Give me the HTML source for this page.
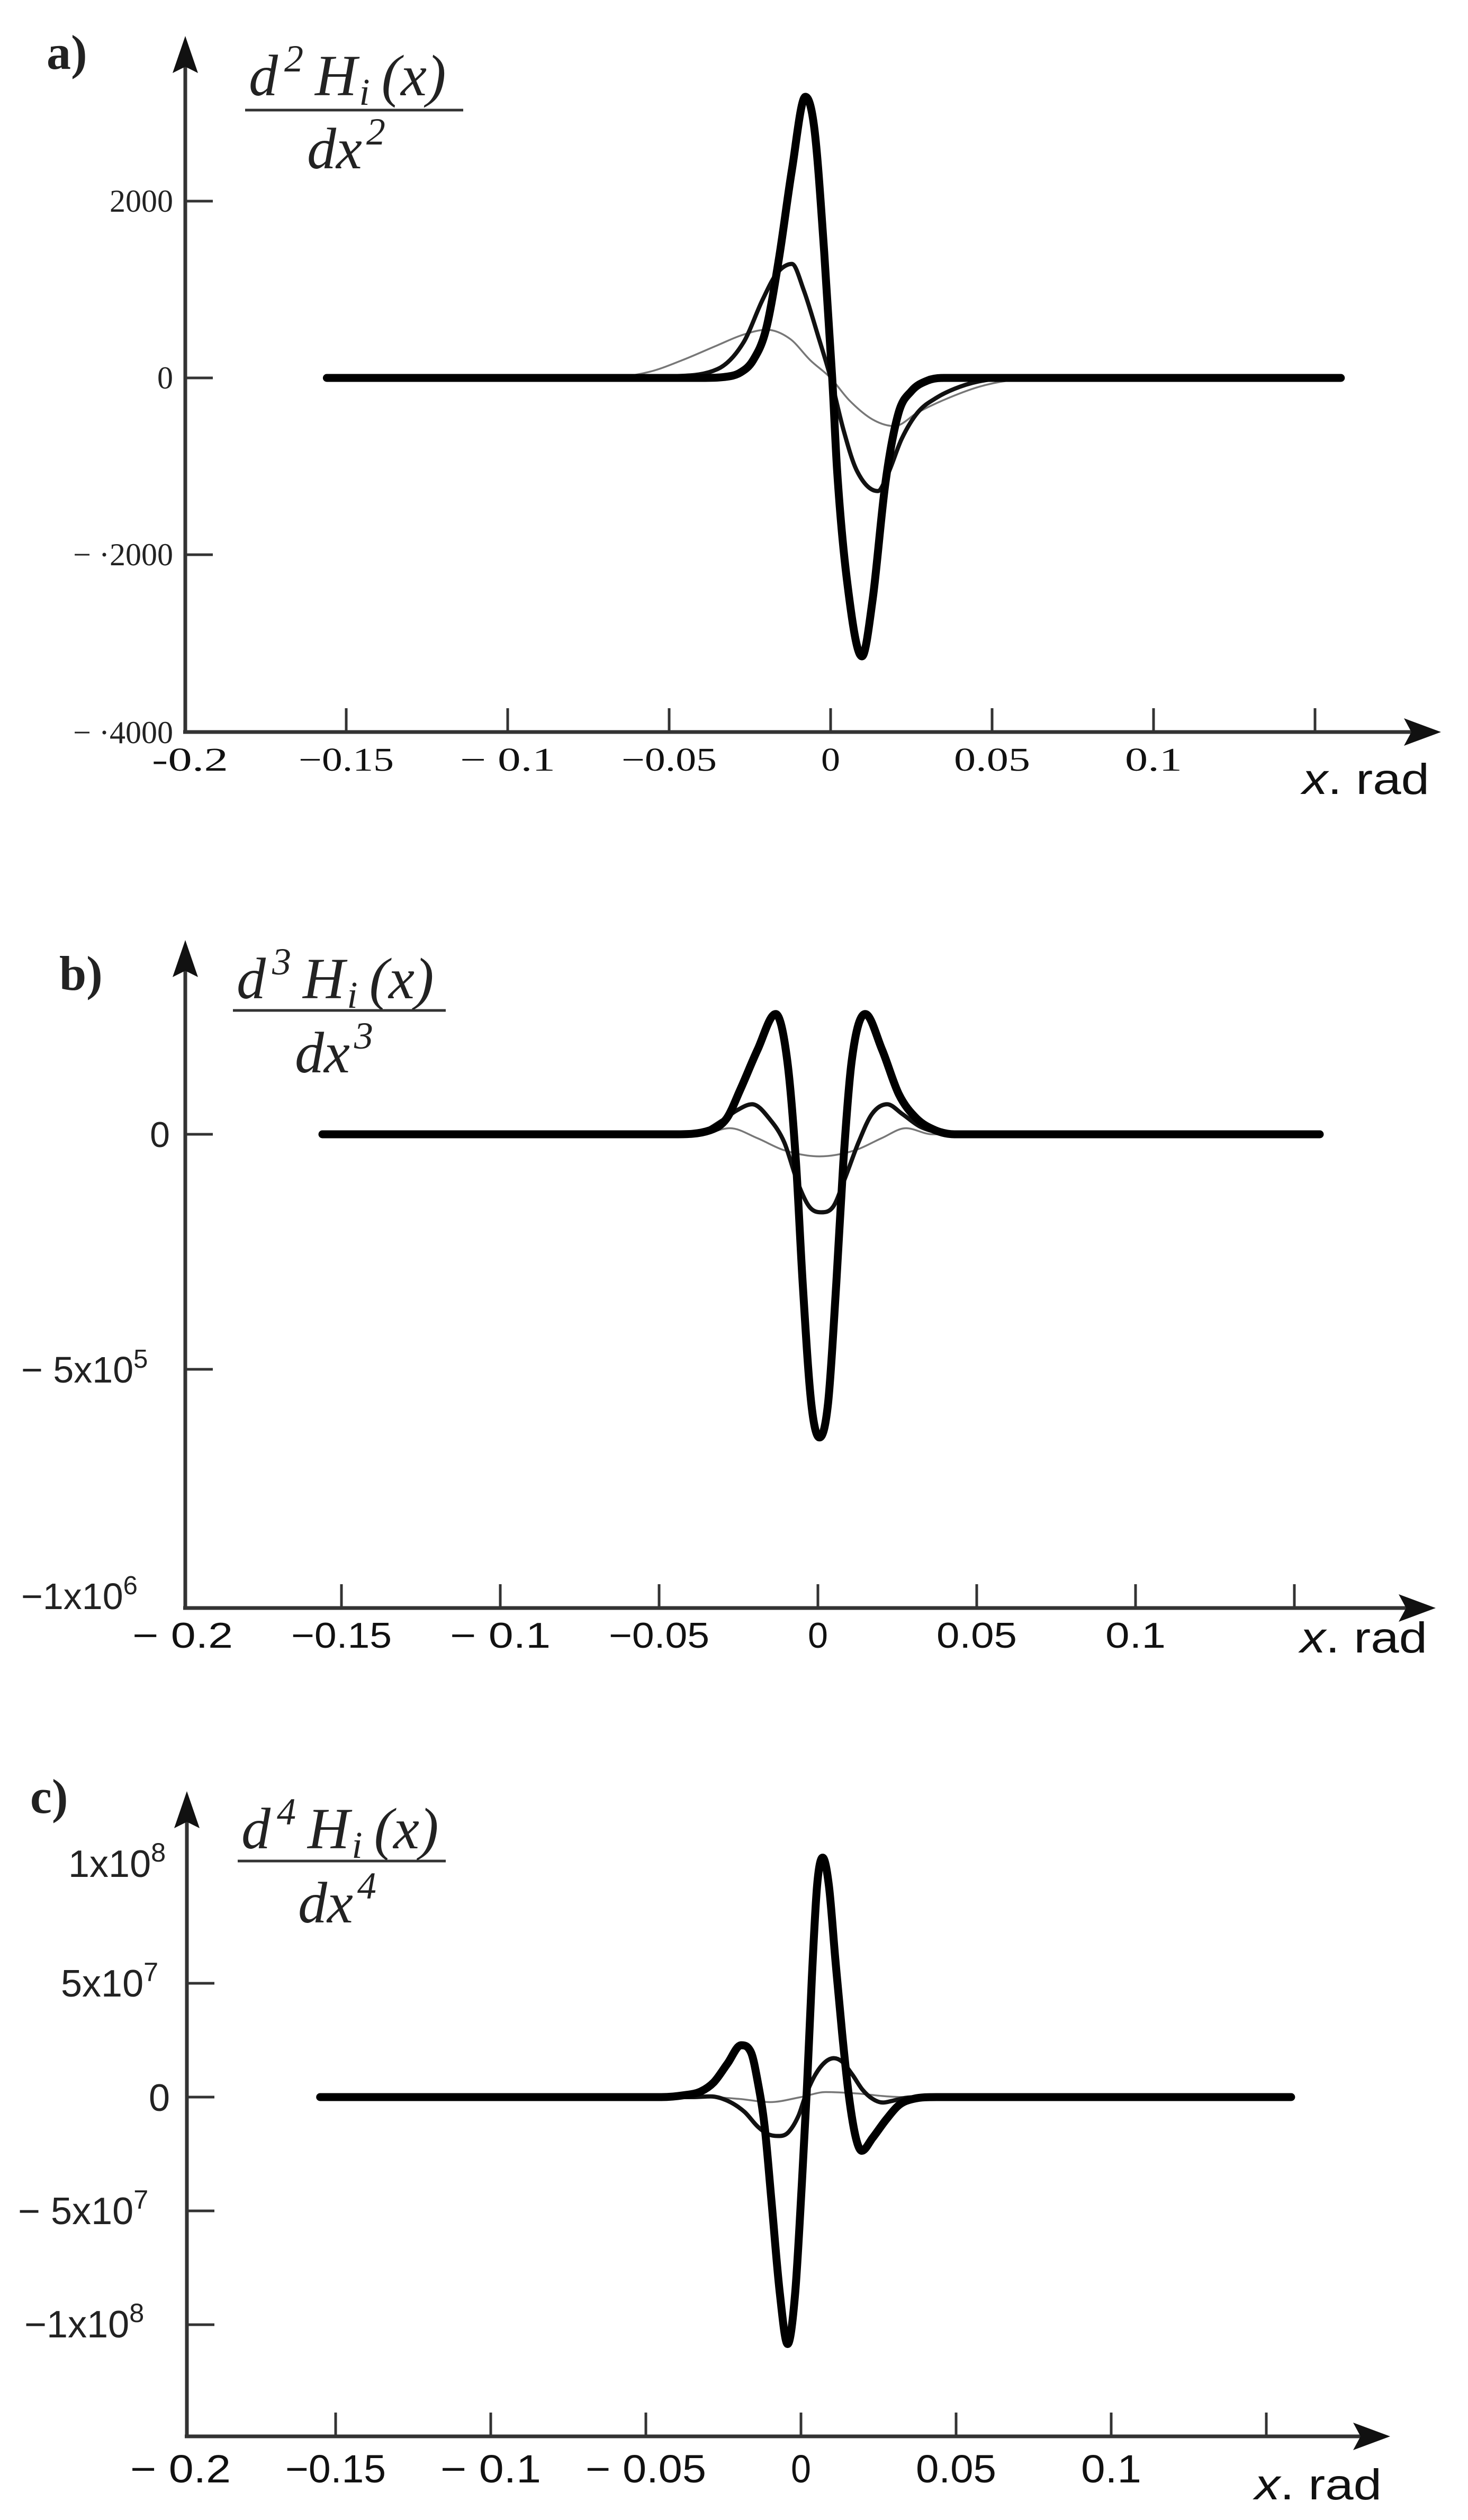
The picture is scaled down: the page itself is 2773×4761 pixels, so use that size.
<!DOCTYPE html>
<html><head><meta charset="utf-8"><style>
html,body{margin:0;padding:0;background:#fff;}
svg{display:block;}
</style></head><body>
<svg id="fig" width="2773" height="4761" viewBox="0 0 2773 4761" xmlns="http://www.w3.org/2000/svg">
<rect width="2773" height="4761" fill="#fff"/>
</svg>
<script>
// ---------- panel a data (d2H/dx2) ----------
const aThinX = [-0.156,-0.07,-0.056,-0.046,-0.035,-0.027,-0.0198,-0.0125,-0.0063,0,0.0057,0.013,0.0198,0.027,0.035,0.046,0.056,0.07,0.158];
const aThinY = [0,0,70,200,370,490,545,440,200,0,-250,-470,-545,-390,-250,-100,-25,0,0];
const aMedX = [-0.156,-0.06,-0.05,-0.035,-0.027,-0.021,-0.0167,-0.012,-0.0083,-0.004,0,0.004,0.008,0.0146,0.0177,0.022,0.027,0.033,0.04,0.048,0.058,0.158];
const aMedY = [0,0,15,100,400,890,1180,1290,990,490,0,-590,-1040,-1280,-1090,-690,-390,-220,-100,-25,0,0];
const aThickX = [-0.156,-0.04,-0.033,-0.028,-0.024,-0.02,-0.016,-0.012,-0.0078,-0.005,-0.002,0.0005,0.002,0.005,0.0097,0.013,0.017,0.021,0.025,0.03,0.035,0.158];
const aThickY = [0,0,10,60,200,550,1350,2350,3180,2810,1430,0,-1040,-2270,-3150,-2510,-1180,-400,-150,-30,0,0];
const aYTicks = [2000,0,-2000];
const aYLabels = ["2000","0","\u2212 \u00b72000"];
const aXTicks = [-0.15,-0.1,-0.05,0,0.05,0.1,0.15];
const aXLabelVals = [-0.2,-0.15,-0.1,-0.05,0,0.05,0.1];
const aXLabels = ["-0.2","\u22120.15","\u2212 0.1","\u22120.05","0","0.05","0.1"];

// ---------- panel b data (d3H/dx3) ----------
const bThinX = [-0.156,-0.037,-0.0277,-0.019,-0.0106,0.0005,0.0117,0.02,0.0277,0.036,0.158];
const bThinY = [0,0,13000,-8500,-34000,-47000,-34000,-8500,13000,0,0];
const bMedX = [-0.156,-0.045,-0.037,-0.03,-0.0255,-0.0207,-0.0149,-0.0106,-0.0064,-0.0027,0.001,0.0048,0.0085,0.0128,0.017,0.0218,0.0266,0.032,0.038,0.046,0.158];
const bMedY = [0,0,4000,30000,51000,64000,30000,-17000,-102000,-154000,-166000,-154000,-94000,-17000,43000,64000,43000,17000,4000,0,0];
const bThickX = [-0.156,-0.045,-0.034,-0.0287,-0.0245,-0.019,-0.0133,-0.0096,-0.0069,-0.0048,-0.0021,0.0005,0.0032,0.0058,0.008,0.0106,0.0149,0.0202,0.0255,0.031,0.037,0.043,0.158];
const bThickY = [0,0,8500,34000,94000,180000,256000,154000,-60000,-316000,-572000,-645000,-572000,-316000,-60000,154000,256000,180000,85000,34000,8500,0,0];
const bYTicks = [0,-500000];
const bXTicks = [-0.15,-0.1,-0.05,0,0.05,0.1,0.15];
const bXLabelVals = [-0.2,-0.15,-0.1,-0.05,0,0.05,0.1];
const bXLabels = ["\u2212 0.2","\u22120.15","\u2212 0.1","\u22120.05","0","0.05","0.1"];

// ---------- panel c data (d4H/dx4) ----------
const cThinX = [-0.155,-0.03,-0.02,-0.01,0,0.008,0.018,0.028,0.035,0.158];
const cThinY = [0,0,-0.8e6,-2.2e6,0,2.2e6,1.6e6,0.3e6,0,0];
const cMedX = [-0.155,-0.035,-0.0291,-0.0237,-0.0182,-0.0139,-0.0106,-0.0068,-0.0041,-0.0008,0.0013,0.0046,0.0079,0.0106,0.0133,0.0166,0.0198,0.0231,0.0264,0.0296,0.034,0.04,0.158];
const cMedY = [0,0,0.3e6,-1.6e6,-6.5e6,-13e6,-16.3e6,-17.1e6,-15.5e6,-8.2e6,0,9.8e6,15.5e6,17.1e6,15.5e6,9.8e6,3.3e6,-0.8e6,-2.4e6,-1.6e6,-0.3e6,0,0];
const cThickX = [-0.155,-0.045,-0.0378,-0.0324,-0.0281,-0.0237,-0.0193,-0.0161,-0.0139,-0.0117,-0.0095,-0.0068,-0.0043,-0.0019,0.0003,0.0019,0.0035,0.0052,0.007,0.009,0.0111,0.0133,0.0155,0.0177,0.0196,0.0231,0.0275,0.0318,0.0362,0.0438,0.158];
const cThickY = [0,0,0.8e6,2.4e6,6.5e6,14.7e6,22.8e6,19.6e6,6.5e6,-13e6,-45.7e6,-86.5e6,-108.5e6,-86.5e6,-37.5e6,3.3e6,52.2e6,93e6,105.2e6,93e6,60.3e6,27.7e6,0,-17.9e6,-23.6e6,-17.9e6,-9.8e6,-3.3e6,-0.8e6,0,0];
const cYTicks = [5e7,0,-5e7,-1e8];
const cXTicks = [-0.15,-0.1,-0.05,0,0.05,0.1,0.15];
const cXLabelVals = [-0.2,-0.15,-0.1,-0.05,0,0.05,0.1];
const cXLabels = ["\u2212 0.2","\u22120.15","\u2212 0.1","\u2212 0.05","0","0.05","0.1"];

const NS = "http://www.w3.org/2000/svg";
const svg = document.getElementById('fig');
function mk(tag, attrs, parent){
  const e = document.createElementNS(NS, tag);
  for (const k in attrs) e.setAttribute(k, attrs[k]);
  (parent||svg).appendChild(e);
  return e;
}
function monoPath(px, py){
  const n = px.length, d = [], m = [];
  for (let i=0;i<n-1;i++) d.push((py[i+1]-py[i])/(px[i+1]-px[i]));
  m[0]=d[0]; m[n-1]=d[n-2];
  for (let i=1;i<n-1;i++){ m[i] = (d[i-1]*d[i]<=0)?0:(d[i-1]+d[i])/2; }
  for (let i=0;i<n-1;i++){
    if (d[i]===0){ m[i]=0; m[i+1]=0; continue; }
    const a=m[i]/d[i], b=m[i+1]/d[i], s=a*a+b*b;
    if (s>9){ const t=3/Math.sqrt(s); m[i]=t*a*d[i]; m[i+1]=t*b*d[i]; }
  }
  let p = "M"+px[0].toFixed(1)+","+py[0].toFixed(1);
  for (let i=0;i<n-1;i++){
    const h=(px[i+1]-px[i])/3;
    p += " C"+(px[i]+h).toFixed(1)+","+(py[i]+m[i]*h).toFixed(1)+" "+(px[i+1]-h).toFixed(1)+","+(py[i+1]-m[i+1]*h).toFixed(1)+" "+px[i+1].toFixed(1)+","+py[i+1].toFixed(1);
  }
  return p;
}

function panel(cfg){
  const g = mk('g', {});
  
  
  const sx = v => cfg.x0 + v*cfg.xs;
  const sy = v => cfg.y0 - v*cfg.ys;
  const ya = mk('line',{x1:cfg.ax,y1:cfg.axisY,x2:cfg.ax,y2:cfg.yTop+40,stroke:'#333','stroke-width':7},g);
  
  
  const yarr = mk('path',{d:`M${cfg.ax},${cfg.yTop} L${cfg.ax-24},${cfg.yTop+70} L${cfg.ax},${cfg.yTop+58} L${cfg.ax+24},${cfg.yTop+70} Z`,fill:'#111'},g);
  
  
  const xa = mk('line',{x1:cfg.ax-4,y1:cfg.axisY,x2:cfg.xRight-40,y2:cfg.axisY,stroke:'#333','stroke-width':7},g);
  
  
  const xarr = mk('path',{d:`M${cfg.xRight},${cfg.axisY} L${cfg.xRight-70},${cfg.axisY-26} L${cfg.xRight-56},${cfg.axisY} L${cfg.xRight-70},${cfg.axisY+26} Z`,fill:'#111'},g);
  
  
  cfg.xTicks.forEach(v=>{
    const t = mk('line',{x1:sx(v),y1:cfg.axisY,x2:sx(v),y2:cfg.axisY-45,stroke:'#333','stroke-width':5},g);
    
    
  });
  cfg.xLabelVals.forEach((v,i)=>{
    const s = cfg.xLabels[i];
    const t = mk('text',{x:sx(v)+(cfg.xLabelShift[i]||0),y:cfg.xLabelY,'text-anchor':'middle','font-family':cfg.xFont,'font-size':cfg.xFontSize,fill:'#111',textLength:cfg.charW*s.length,lengthAdjust:'spacingAndGlyphs'},g);
    t.textContent = s;
    
    
  });
  cfg.yTicks.forEach(v=>{
    const t = mk('line',{x1:cfg.ax,y1:sy(v),x2:cfg.ax+52,y2:sy(v),stroke:'#333','stroke-width':5},g);
    
    
  });
  cfg.series.forEach(s=>{
    const px = s.x.map(sx), py = s.y.map(sy);
    const p = mk('path',{d:monoPath(px,py),fill:'none',stroke:s.color,'stroke-width':s.w,'stroke-linejoin':'round','stroke-linecap':'round'},g);
    
    
  });
  return {g, sx, sy};
}

const A = panel({name:'panel-a', x0:1569, xs:6100, y0:714, ys:334/2000, ax:350, axisY:1383, yTop:68, xRight:2722,
  xTicks:aXTicks, xLabelVals:aXLabelVals, xLabels:aXLabels, xLabelShift:[10,0,0,0,0,0,0], xLabelY:1456, xFont:'"Liberation Serif", serif', xFontSize:62, charW:36,
  yTicks:aYTicks,
  series:[{name:'series-thin',x:aThinX,y:aThinY,w:3.5,color:'#777'},{name:'series-medium',x:aMedX,y:aMedY,w:8,color:'#111'},{name:'series-thick',x:aThickX,y:aThickY,w:15,color:'#000'}]});
const B = panel({name:'panel-b', x0:1545, xs:6000, y0:2143, ys:444/500000, ax:350, axisY:3038, yTop:1776, xRight:2712,
  xTicks:bXTicks, xLabelVals:bXLabelVals, xLabels:bXLabels, xLabelShift:[0,0,0,0,0,0,0], xLabelY:3113, xFont:'"Liberation Sans", sans-serif', xFontSize:68, charW:38,
  yTicks:bYTicks,
  series:[{name:'series-thin',x:bThinX,y:bThinY,w:3.5,color:'#777'},{name:'series-medium',x:bMedX,y:bMedY,w:8,color:'#111'},{name:'series-thick',x:bThickX,y:bThickY,w:15,color:'#000'}]});
const C = panel({name:'panel-c', x0:1513, xs:5860, y0:3962, ys:215/5e7, ax:353, axisY:4603, yTop:3384, xRight:2626,
  xTicks:cXTicks, xLabelVals:cXLabelVals, xLabels:cXLabels, xLabelShift:[0,0,0,0,0,0,0], xLabelY:4690, xFont:'"Liberation Sans", sans-serif', xFontSize:74, charW:38,
  yTicks:cYTicks,
  series:[{name:'series-thin',x:cThinX,y:cThinY,w:3.5,color:'#777'},{name:'series-medium',x:cMedX,y:cMedY,w:8,color:'#111'},{name:'series-thick',x:cThickX,y:cThickY,w:15,color:'#000'}]});

aYTicks.forEach((v,i)=>{
  const t = mk('text',{x:327,y:A.sy(v)+20,'text-anchor':'end','font-family':'"Liberation Serif", serif','font-size':60,fill:'#222'},A.g);
  t.textContent = aYLabels[i];
  
  
});
const a4 = mk('text',{x:327,y:1404,'text-anchor':'end','font-family':'"Liberation Serif", serif','font-size':60,fill:'#222'},A.g);
a4.textContent = "\u2212 \u00b74000";



function sci(parent, x, y, mant, exp, fs, name){
  const t = document.createElementNS(NS,'text');
  t.setAttribute('x', x); t.setAttribute('y', y);
  t.setAttribute('font-family','"Liberation Sans", sans-serif');
  t.setAttribute('font-size', fs); t.setAttribute('fill','#222');
  
  
  t.appendChild(document.createTextNode(mant+"x10"));
  const s = document.createElementNS(NS,'tspan');
  s.setAttribute('dy', -fs*0.4); s.setAttribute('font-size', fs*0.7);
  s.textContent = exp; t.appendChild(s);
  parent.appendChild(t);
}
const t0b = mk('text',{x:321,y:2167,'text-anchor':'end','font-family':'"Liberation Sans", sans-serif','font-size':68,fill:'#222'},B.g);
t0b.textContent='0';


sci(B.g, 40, 2612, "\u2212 5", "5", 70, 'y-tick-label');
sci(B.g, 40, 3040, "\u22121", "6", 70, 'y-tick-label');
sci(C.g, 129, 3546, "1", "8", 72, 'y-tick-label');
sci(C.g, 115, 3772, "5", "7", 72, 'y-tick-label');
const t0c = mk('text',{x:321,y:3988,'text-anchor':'end','font-family':'"Liberation Sans", sans-serif','font-size':72,fill:'#222'},C.g);
t0c.textContent='0';


sci(C.g, 34, 4202, "\u2212 5", "7", 72, 'y-tick-label');
sci(C.g, 46, 4416, "\u22121", "8", 72, 'y-tick-label');

[[A.g,2460,1500],[B.g,2456,3122],[C.g,2370,4722]].forEach(([g,x,y])=>{
  const t = mk('text',{x:x,y:y,'font-family':'"Liberation Sans", sans-serif','font-size':82,fill:'#111',textLength:240,lengthAdjust:'spacingAndGlyphs'},g);
  t.innerHTML = '<tspan font-style="italic">x</tspan>. rad';
  
  
});

[[A.g,88,130,'a)'],[B.g,112,1870,'b)'],[C.g,57,3425,'c)']].forEach(([g,x,y,s])=>{
  const t = mk('text',{x:x,y:y,'font-family':'"Liberation Serif", serif','font-size':92,'font-weight':'bold',fill:'#222'},g);
  t.textContent = s;
  
  
});

function frac(g, nx, ny, barY, bx1, bx2, dx, dy, ord){
  const n = mk('text',{x:nx,y:ny,'font-family':'"Liberation Serif", serif','font-size':110,'font-style':'italic',fill:'#222'},g);
  n.innerHTML = 'd<tspan font-size="72" dx="12" dy="-45">'+ord+'</tspan><tspan dx="22" dy="45">H</tspan><tspan font-size="72" dx="4" dy="18">i</tspan><tspan dx="22" dy="-18">(x)</tspan>';
  
  
  const b = mk('line',{x1:bx1,y1:barY,x2:bx2,y2:barY,stroke:'#333','stroke-width':5},g);
  
  
  const d = mk('text',{x:dx,y:dy,'font-family':'"Liberation Serif", serif','font-size':110,'font-style':'italic',fill:'#222'},g);
  d.innerHTML = 'dx<tspan font-size="72" dx="8" dy="-45">'+ord+'</tspan>';
  
  
}
frac(A.g, 470, 180, 208, 463, 875, 580, 318, '2');
frac(B.g, 447, 1886, 1909, 440, 842, 557, 2026, '3');
frac(C.g, 456, 3492, 3516, 449, 842, 563, 3632, '4');
</script>
</body></html>
